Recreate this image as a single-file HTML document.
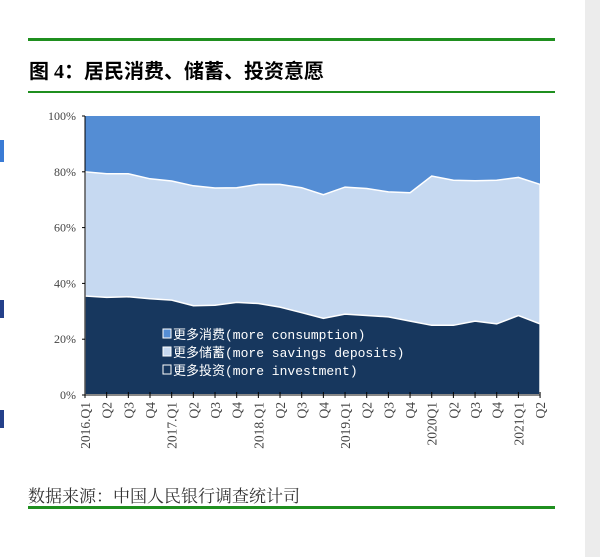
<!DOCTYPE html>
<html><head><meta charset="utf-8">
<style>
body{margin:0;width:600px;height:557px;background:#fff;position:relative;overflow:hidden;font-family:"Liberation Serif","Noto Serif CJK SC",serif}
.g{position:absolute;left:28px;width:527px;background:#1f8f1f}
.t{position:absolute;left:29px;top:55px;font-size:20px;font-weight:bold;color:#000;font-family:"Liberation Serif","Noto Sans CJK SC",sans-serif}
.s{position:absolute;left:28px;top:482px;font-size:17px;color:#333}
</style></head><body>
<div class="g" style="top:38px;height:3px"></div>
<div class="t">图 4：居民消费、储蓄、投资意愿</div>
<div class="g" style="top:91px;height:2px"></div>
<div style="position:absolute;left:585px;top:0;width:15px;height:557px;background:#ececec"></div>
<div style="position:absolute;left:0;top:140px;width:4px;height:22px;background:#3a7bd5"></div>
<div style="position:absolute;left:0;top:300px;width:4px;height:18px;background:#24408a"></div>
<div style="position:absolute;left:0;top:410px;width:4px;height:18px;background:#24408a"></div>
<svg id="c" width="600" height="557" style="position:absolute;left:0;top:0"></svg>
<div class="s">数据来源：中国人民银行调查统计司</div>
<div class="g" style="top:506px;height:3px"></div>
<script>
var up=[80,79.3,79.3,77.5,76.7,75,74.2,74.3,75.5,75.5,74.3,71.8,74.5,74,72.8,72.5,78.5,77,76.8,77,78,75.5];
var lo=[35.5,35,35.2,34.5,34,32,32.2,33.2,32.8,31.5,29.5,27.5,29,28.5,28,26.5,25,25,26.5,25.5,28.5,25.5];
var X=i=>85+i*21.67,Y=v=>395-v*2.79;
var h='';
h+='<rect x="85" y="116" width="455" height="279" fill="#548dd4"/>';
var p='M85,395 '+up.map((v,i)=>'L'+X(i).toFixed(1)+','+Y(v).toFixed(1)).join(' ')+' L540,395Z';
h+='<path d="'+p+'" fill="#c6d9f1" stroke="#fff" stroke-width="1.5"/>';
p='M85,395 '+lo.map((v,i)=>'L'+X(i).toFixed(1)+','+Y(v).toFixed(1)).join(' ')+' L540,395Z';
h+='<path d="'+p+'" fill="#17375e" stroke="#fff" stroke-width="1.5"/>';
h+='<line x1="85" y1="116" x2="85" y2="395" stroke="#000"/><line x1="85" y1="395" x2="540" y2="395" stroke="#888" stroke-width="2"/>';
[0,20,40,60,80,100].forEach(v=>{h+='<text x="76" y="'+(Y(v)+4)+'" font-size="12" text-anchor="end" fill="#444" font-family="Liberation Serif">'+v+'%</text><line x1="82" x2="85" y1="'+Y(v)+'" y2="'+Y(v)+'" stroke="#000"/>'});
for(var i=0;i<22;i++){var x=X(i);h+='<line x1="'+x+'" x2="'+x+'" y1="392" y2="398" stroke="#000"/>';
var q=i%4,yr=2016+Math.floor(i/4);var lab=q==0?yr+'.Q1':'Q'+(q+1);if(i==16)lab='2020Q1';if(i==20)lab='2021Q1';
h+='<text transform="translate('+(x+5)+',402) rotate(-90)" font-size="13.5" text-anchor="end" fill="#444" font-family="Liberation Serif">'+lab+'</text>';}
var L=[['#548dd4','更多消费(more consumption)'],['#c6d9f1','更多储蓄(more savings deposits)'],['#17375e','更多投资(more investment)']];
L.forEach((l,k)=>{var y=339+k*18;h+='<rect x="163" y="'+(y-10)+'' +'" width="8" height="9" fill="'+l[0]+'" stroke="#fff"/><text x="173" y="'+y+'" font-size="13" fill="#fff" font-family="Liberation Mono,Noto Sans CJK SC,monospace">'+l[1]+'</text>'});
document.getElementById('c').innerHTML=h;
</script>
</body></html>
